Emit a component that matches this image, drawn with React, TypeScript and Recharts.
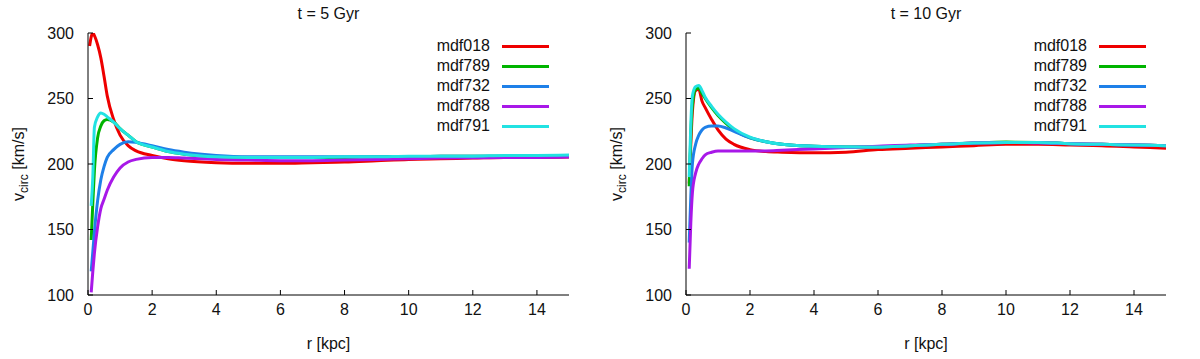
import React from "react";
import { LineChart, Line, XAxis, YAxis } from "recharts";

const FONT = '"Liberation Sans", Arial, sans-serif';

// radius grid (kpc)
const R = [0.05, 0.1, 0.15, 0.2, 0.3, 0.4, 0.5, 0.6, 0.8, 1.0, 1.25, 1.5, 2, 2.5, 3, 4, 5, 6, 7, 8, 9, 10, 11, 12, 13, 14, 15];

const X_TICKS = [0, 2, 4, 6, 8, 10, 12, 14];
const Y_TICKS = [100, 150, 200, 250, 300];

const NAMES = ["mdf018", "mdf789", "mdf732", "mdf788", "mdf791"];
const COLORS = ["#ee0000", "#00b400", "#1e80e8", "#a818e8", "#22e2e2"];

// t = 5 Gyr
const T5_MDF018 = [290, 297, 300, 298, 291, 281, 267, 252, 234, 222, 214, 210, 206.5, 204, 202.5, 201, 200.5, 200.5, 201, 201.5, 202.5, 203.5, 204, 204.5, 205, 205, 205.3];
const T5_MDF789 = [null, 142, 170, 195, 220, 229, 233, 234, 232, 227, 222, 217, 213, 209.5, 207.5, 205.5, 205, 205, 205, 205, 205.5, 205.5, 206, 206, 206, 206.5, 206.5];
const T5_MDF732 = [null, 118, 133, 148, 172, 188, 198, 205, 211, 215, 217, 216.5, 214, 211, 209, 206.5, 205.5, 205.5, 205.5, 205.5, 205.5, 205.5, 206, 206, 206, 206.5, 206.5];
const T5_MDF788 = [null, 102, 118, 132, 152, 166, 173, 180, 190, 197, 201.5, 203.5, 205, 205, 204.5, 203.5, 203, 202.5, 202.5, 203, 203.5, 204, 204.5, 204.8, 205, 205, 205.3];
const T5_MDF791 = [null, 168, 190, 228, 236, 239, 238, 236, 232, 227, 222, 217, 213, 209.5, 207.5, 205.5, 205, 205, 205, 205.5, 205.5, 206, 206, 206, 206.5, 206.5, 206.8];

// t = 10 Gyr
const T10_MDF018 = [null, 185, 215, 240, 256, 257, 248, 243, 234, 226, 219, 215, 211, 209.5, 209, 208.5, 209, 211, 212, 213, 214, 215, 215, 214.5, 214, 213, 212];
const T10_MDF789 = [null, 183, 222, 245, 257, 258, 254, 250, 243, 237, 231, 226, 220, 217, 215, 213.5, 213, 213, 214, 215, 216, 216.7, 216.5, 215.5, 215, 214.5, 214];
const T10_MDF732 = [null, 140, 175, 200, 215, 222, 226, 228, 229, 229, 227.5, 225, 220, 217, 215, 213.5, 213, 213, 214, 215, 216, 216.5, 216.5, 215.5, 215, 214.5, 214];
const T10_MDF788 = [null, 120, 155, 178, 193, 200, 204, 207, 209, 210, 210, 210, 210, 210, 210.5, 211.5, 212.5, 213.5, 214.5, 215, 216, 216.5, 216, 215.5, 215, 214.5, 214];
const T10_MDF791 = [null, 190, 230, 252, 259, 260, 256, 251, 244, 238, 232, 227, 220.5, 217, 215, 213.5, 213, 213, 214, 215, 216, 216.5, 216.5, 215.5, 215, 214.5, 214];

function buildRows(series: (number | null)[][]) {
  return R.map((r, i) => {
    const row: Record<string, number | null> = { r };
    NAMES.forEach((n, k) => {
      row[n] = series[k][i];
    });
    return row;
  });
}

const rows5 = buildRows([T5_MDF018, T5_MDF789, T5_MDF732, T5_MDF788, T5_MDF791]);
const rows10 = buildRows([T10_MDF018, T10_MDF789, T10_MDF732, T10_MDF788, T10_MDF791]);

const tickStyle = { fill: "#111", fontSize: 16, fontFamily: FONT };

function LegendBox({ left, top }: { left: number; top: number }) {
  return (
    <div style={{ position: "absolute", left, top, fontFamily: FONT, fontSize: 16, color: "#111" }}>
      {NAMES.map((n, i) => (
        <div key={n} style={{ display: "flex", alignItems: "center", height: 20 }}>
          <span style={{ width: 110, textAlign: "right" }}>{n}</span>
          <span style={{ marginLeft: 12, width: 47, height: 3, background: COLORS[i] }} />
        </div>
      ))}
    </div>
  );
}

interface PanelProps {
  title: string;
  rows: Record<string, number | null>[];
  left: number;
  marginLeft: number;
  marginRight: number;
  rightBorder: boolean;
}

function Panel({ title, rows, left, marginLeft, marginRight, rightBorder }: PanelProps) {
  const plotLeft = marginLeft + 70;
  const plotWidth = 600 - plotLeft - marginRight;
  return (
    <div style={{ position: "absolute", left, top: 0, width: 600, height: 359 }}>
      <div
        style={{
          position: "absolute",
          left: plotLeft,
          width: plotWidth,
          top: 4,
          lineHeight: "20px",
          textAlign: "center",
          fontFamily: FONT,
          fontSize: 16,
          color: "#111",
        }}
      >
        {title}
      </div>
      <LineChart
        width={600}
        height={359}
        data={rows}
        margin={{ top: 33, right: marginRight, bottom: 24, left: marginLeft }}
      >
        <XAxis
          dataKey="r"
          type="number"
          domain={[0, 15]}
          ticks={X_TICKS}
          allowDataOverflow
          height={40}
          stroke="#000"
          tickSize={-5}
          tickMargin={14}
          tick={tickStyle}
          label={{
            content: ({ viewBox }: any) => (
              <text
                x={viewBox.x + viewBox.width / 2}
                y={viewBox.y + 53.5}
                textAnchor="middle"
                fill="#111"
                fontSize={16}
                fontFamily={FONT}
              >
                r [kpc]
              </text>
            ),
          }}
        />
        <XAxis
          xAxisId="top"
          orientation="top"
          type="number"
          domain={[0, 15]}
          ticks={X_TICKS}
          height={0}
          stroke="#000"
          tickSize={-5}
          tick={false}
        />
        <YAxis
          type="number"
          domain={[100, 300]}
          ticks={Y_TICKS}
          allowDataOverflow
          width={70}
          stroke="#000"
          tickSize={-5}
          tickMargin={19}
          tick={tickStyle}
          label={{
            content: ({ viewBox }: any) => {
              const cx = viewBox.x + 6;
              const cy = viewBox.y + viewBox.height / 2;
              return (
                <text
                  x={cx}
                  y={cy}
                  transform={`rotate(-90 ${cx} ${cy})`}
                  textAnchor="middle"
                  fill="#111"
                  fontSize={16}
                  fontFamily={FONT}
                >
                  v
                  <tspan dy={4} fontSize={12}>
                    circ
                  </tspan>
                  <tspan dy={-4}> [km/s]</tspan>
                </text>
              );
            },
          }}
        />
        <YAxis
          yAxisId="right"
          orientation="right"
          type="number"
          domain={[100, 300]}
          ticks={Y_TICKS}
          width={0}
          stroke="#000"
          axisLine={rightBorder}
          tickSize={-5}
          tick={false}
        />
        {NAMES.map((n, i) => (
          <Line
            key={n}
            dataKey={n}
            type="monotone"
            stroke={COLORS[i]}
            strokeWidth={3}
            dot={false}
            activeDot={false}
            isAnimationActive={false}
          />
        ))}
      </LineChart>
      <LegendBox left={plotLeft + plotWidth - 189} top={36} />
    </div>
  );
}

export default function App() {
  return (
    <div style={{ position: "absolute", left: 0, top: 0, width: 1200, height: 359, background: "#fff" }}>
      <Panel title="t = 5 Gyr" rows={rows5} left={0} marginLeft={18} marginRight={31} rightBorder={false} />
      <Panel title="t = 10 Gyr" rows={rows10} left={600} marginLeft={16} marginRight={34} rightBorder={true} />
    </div>
  );
}
